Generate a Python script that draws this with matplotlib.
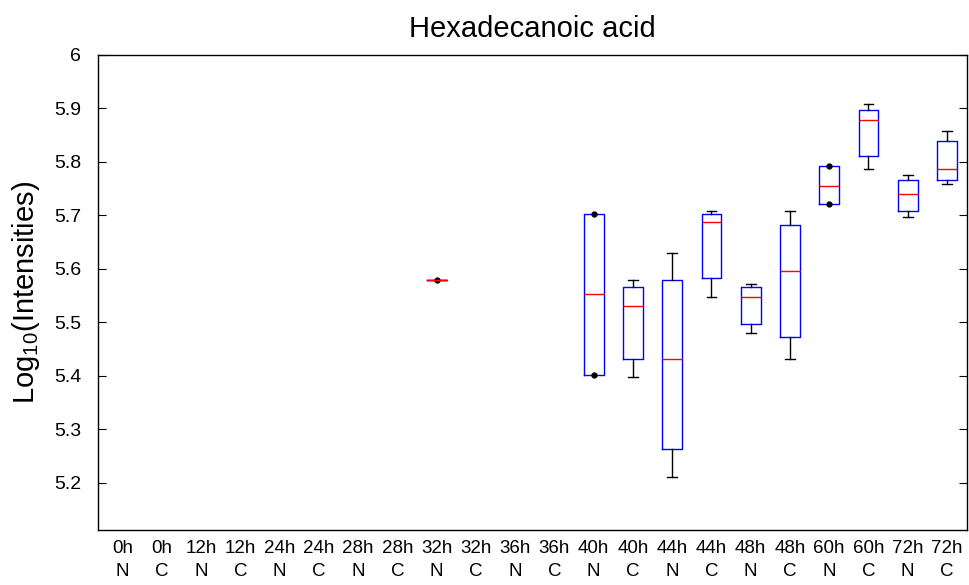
import numpy as np
import matplotlib
matplotlib.use('Agg')
from matplotlib import pyplot as plt

plt.rcParams['font.family'] = ['Liberation Sans', 'DejaVu Sans']
plt.rcParams['mathtext.fontset'] = 'custom'
plt.rcParams['mathtext.rm'] = 'Liberation Sans'
plt.rcParams['mathtext.it'] = 'Liberation Sans'

# categories (time / condition)
horas = ['0h', '0h', '12h', '12h', '24h', '24h', '28h', '28h', '32h', '32h', '36h',
         '36h', '40h', '40h', '44h', '44h', '48h', '48h', '60h', '60h', '72h', '72h']
grupo = ['N', 'C'] * 11

# groups that have data (1-based position) and their box statistics
posiciones = [9, 13, 14, 15, 16, 17, 18, 19, 20, 21, 22]
whis_bajo = [5.580, 5.401, 5.398, 5.211, 5.548, 5.480, 5.431, 5.721, 5.787, 5.697, 5.758]
q1 =        [5.580, 5.401, 5.431, 5.264, 5.583, 5.498, 5.472, 5.721, 5.811, 5.709, 5.767]
mediana =   [5.580, 5.554, 5.531, 5.431, 5.688, 5.548, 5.597, 5.756, 5.878, 5.741, 5.787]
q3 =        [5.580, 5.703, 5.566, 5.580, 5.703, 5.566, 5.682, 5.793, 5.898, 5.767, 5.840]
whis_alto = [5.580, 5.703, 5.580, 5.629, 5.708, 5.571, 5.708, 5.793, 5.908, 5.776, 5.858]
atipicos = [[5.580], [5.401, 5.703], [], [], [], [], [], [5.721, 5.793], [], [], []]

stats = []
for i in range(len(posiciones)):
    stats.append({'whislo': whis_bajo[i], 'q1': q1[i], 'med': mediana[i],
                  'q3': q3[i], 'whishi': whis_alto[i], 'fliers': atipicos[i]})

fig = plt.figure(figsize=(9.69, 5.85), dpi=100)
ax = fig.add_axes([98/969, 1-530/585, 869/969, 475/585])

res = ax.bxp(stats, positions=posiciones, widths=0.5, showfliers=True,
             boxprops=dict(color='blue', lw=1.0),
             medianprops=dict(color='red', lw=1.0),
             whiskerprops=dict(color='black', lw=1.0, linestyle='-'),
             capprops=dict(color='black', lw=1.0),
             flierprops=dict(marker='o', markerfacecolor='black', markeredgecolor='black',
                             markersize=3.5, linestyle='none'),
             capwidths=0.25)

# hide caps that coincide with the box edges
for i in range(len(posiciones)):
    if whis_bajo[i] == q1[i]:
        res['caps'][2*i].set_visible(False)
    if whis_alto[i] == q3[i]:
        res['caps'][2*i+1].set_visible(False)

ax.set_xlim(0.37, 22.51)
ax.set_ylim(5.112, 6.0)

yt = [5.2, 5.3, 5.4, 5.5, 5.6, 5.7, 5.8, 5.9, 6.0]
ax.set_yticks(yt)
ax.set_yticklabels(['5.2', '5.3', '5.4', '5.5', '5.6', '5.7', '5.8', '5.9', '6'], fontsize=14)
ax.tick_params(axis='y', direction='in', right=True, length=6, width=0.8, pad=12)

ax.set_xticks(range(1, 23))
ax.set_xticklabels([h + '\n' + g for h, g in zip(horas, grupo)], fontsize=13.5,
                   linespacing=1.5)
ax.tick_params(axis='x', length=0, pad=7)

for s in ax.spines.values():
    s.set_linewidth(1.0)

ax.set_title('Hexadecanoic acid', fontsize=21, pad=13)
ax.set_ylabel(r'Log$_{10}$(Intensities)', fontsize=21)
ax.yaxis.set_label_coords(-0.064, 0.5)

fig.savefig('out.png', dpi=100)
